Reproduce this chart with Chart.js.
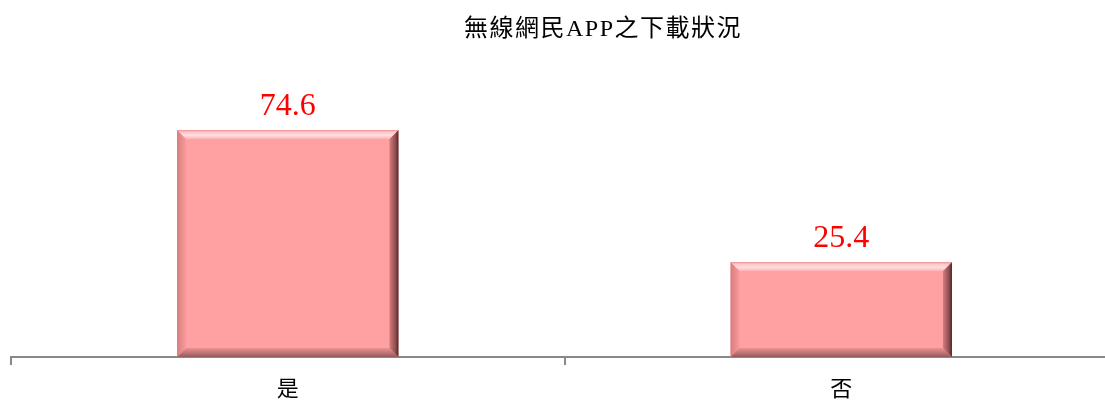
<!DOCTYPE html>
<html>
<head>
<meta charset="utf-8">
<script src="https://cdn.jsdelivr.net/npm/chart.js@4/dist/chart.umd.min.js"></script>
<style>
html,body{margin:0;padding:0;background:#fff;overflow:hidden;width:1105px;height:403px;}
#wrap{position:relative;width:1125px;height:403px;}
</style>
</head>
<body>
<div id="wrap"><canvas id="c" width="1125" height="403"></canvas></div>
<script>
const titleText = "無線網民APP之下載狀況";
const categories = ["是", "否"];
const values = [74.6, 25.4];

const CJK = '"Liberation Serif", "Noto Sans CJK TC", serif';

const bevelPlugin = {
  id: 'bevel',
  afterDatasetsDraw(chart) {
    const ctx = chart.ctx;
    const meta = chart.getDatasetMeta(0);
    meta.data.forEach((bar) => {
      const l = bar.x - bar.width / 2, r = bar.x + bar.width / 2;
      const t = bar.y, b = bar.base;
      const s = 9;
      ctx.save();
      let g = ctx.createLinearGradient(l, 0, l + s, 0);
      g.addColorStop(0, 'rgb(215,125,127)');
      g.addColorStop(1, 'rgb(250,155,157)');
      ctx.fillStyle = g;
      ctx.beginPath(); ctx.moveTo(l, t); ctx.lineTo(l + s, t + s); ctx.lineTo(l + s, b - s); ctx.lineTo(l, b); ctx.closePath(); ctx.fill();
      g = ctx.createLinearGradient(0, b - s, 0, b);
      g.addColorStop(0, 'rgb(235,145,147)');
      g.addColorStop(1, 'rgb(150,90,92)');
      ctx.fillStyle = g;
      ctx.beginPath(); ctx.moveTo(l, b); ctx.lineTo(l + s, b - s); ctx.lineTo(r - s, b - s); ctx.lineTo(r, b); ctx.closePath(); ctx.fill();
      g = ctx.createLinearGradient(r - s, 0, r, 0);
      g.addColorStop(0, 'rgb(210,125,127)');
      g.addColorStop(0.7, 'rgb(140,75,77)');
      g.addColorStop(1, 'rgb(70,35,36)');
      ctx.fillStyle = g;
      ctx.beginPath(); ctx.moveTo(r, t); ctx.lineTo(r, b); ctx.lineTo(r - s, b - s); ctx.lineTo(r - s, t + s); ctx.closePath(); ctx.fill();
      g = ctx.createLinearGradient(0, t, 0, t + s);
      g.addColorStop(0, 'rgb(235,150,152)');
      g.addColorStop(0.25, 'rgb(255,200,202)');
      g.addColorStop(0.6, 'rgb(255,222,224)');
      g.addColorStop(1, 'rgb(255,175,177)');
      ctx.fillStyle = g;
      ctx.beginPath(); ctx.moveTo(l, t); ctx.lineTo(r, t); ctx.lineTo(r - s, t + s); ctx.lineTo(l + s, t + s); ctx.closePath(); ctx.fill();
      ctx.restore();
    });
  },
  afterDraw(chart) {
    const ctx = chart.ctx;
    const meta = chart.getDatasetMeta(0);
    ctx.save();
    ctx.fillStyle = '#FF0000';
    ctx.font = '32px "Liberation Serif", serif';
    ctx.textAlign = 'center';
    ctx.textBaseline = 'alphabetic';
    meta.data.forEach((bar, i) => {
      ctx.fillText(values[i].toFixed(1), bar.x, bar.y - 15);
    });
    ctx.fillStyle = '#000';
    ctx.font = '24px ' + CJK;
    if ('letterSpacing' in ctx) ctx.letterSpacing = '1.5px';
    ctx.textBaseline = 'middle';
    ctx.fillText(titleText, 603, 30);
    ctx.restore();
  }
};

new Chart(document.getElementById('c'), {
  type: 'bar',
  data: {
    labels: categories,
    datasets: [{
      data: values,
      base: -10,
      backgroundColor: '#FFA0A2',
      borderWidth: 0,
      barPercentage: 0.4,
      categoryPercentage: 1.0
    }]
  },
  options: {
    responsive: false,
    animation: false,
    devicePixelRatio: 1,
    layout: { padding: { left: 11, right: 7, top: 62, bottom: 0 } },
    plugins: { legend: { display: false }, title: { display: false }, tooltip: { enabled: false } },
    scales: {
      y: { display: false, min: -10, max: 100 },
      x: {
        afterFit(scale) { scale.height = 46; },
        grid: { display: true, drawOnChartArea: false, drawTicks: true, tickLength: 8, color: '#888888', lineWidth: 2, offset: true },
        border: { display: true, color: '#888888', width: 2 },
        ticks: { color: '#000', font: { family: CJK, size: 22, lineHeight: 1.0 }, padding: 14 }
      }
    }
  },
  plugins: [bevelPlugin]
});
</script>
</body>
</html>
